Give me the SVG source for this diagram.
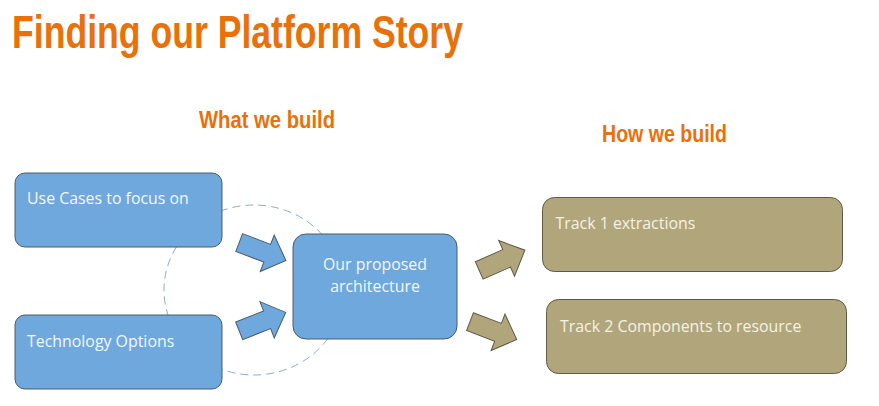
<svg xmlns="http://www.w3.org/2000/svg" width="879" height="406" viewBox="0 0 879 406">
  <style>
    .title { font-family: "Liberation Sans Narrow", "Liberation Sans", Arial, sans-serif; font-weight: bold; fill: #e8710a; }
    .blue { fill: #6fa8dc; stroke: #4a5a6e; stroke-width: 1; }
    .tan { fill: #b1a67b; stroke: #5e5a48; stroke-width: 1; }
    .lbl { font-family: "Open Sans", "Noto Sans", sans-serif; font-size: 15.9px; fill: #f4f7fb; }
    .lbl2 { font-family: "Open Sans", "Noto Sans", sans-serif; font-size: 15.9px; fill: #f5f2e4; }
  </style>
  <defs>
    <path id="blk" d="M0,-9.5 L30,-9.5 L30,-19.5 L50,0 L30,19.5 L30,9.5 L0,9.5 Z"/>
  </defs>
  <rect width="879" height="406" fill="#ffffff"/>

  <text class="title" x="12" y="48" font-size="46" textLength="451" lengthAdjust="spacingAndGlyphs">Finding our Platform Story</text>
  <text class="title" x="199" y="128" font-size="24" textLength="136" lengthAdjust="spacingAndGlyphs">What we build</text>
  <text class="title" x="602" y="141.5" font-size="24" textLength="125" lengthAdjust="spacingAndGlyphs">How we build</text>

  <ellipse cx="254" cy="290" rx="90" ry="85" fill="none" stroke="#8eaac9" stroke-width="1" stroke-dasharray="8,5"/>

  <g id="connectors">
    <use href="#blk" class="blue" transform="translate(239.2,242.5) rotate(21)"/>
    <use href="#blk" class="blue" transform="translate(239.2,330.8) rotate(-21.6)"/>
    <use href="#blk" class="tan" transform="translate(479.2,270.5) rotate(-24)"/>
    <use href="#blk" class="tan" transform="translate(470,321.7) rotate(20.8)"/>
  </g>

  <g id="use-cases">
    <rect class="blue" x="15" y="173" width="207" height="74" rx="10"/>
    <text class="lbl" x="27" y="204">Use Cases to focus on</text>
  </g>
  <g id="technology-options">
    <rect class="blue" x="15" y="315" width="207" height="74" rx="10"/>
    <text class="lbl" x="27" y="347">Technology Options</text>
  </g>
  <g id="proposed-architecture">
    <rect class="blue" x="293" y="234" width="164" height="105" rx="13"/>
    <text class="lbl" x="375" y="270" text-anchor="middle">Our proposed</text>
    <text class="lbl" x="375" y="292" text-anchor="middle">architecture</text>
  </g>
  <g id="track-1">
    <rect class="tan" x="542.5" y="197.5" width="300" height="74" rx="12"/>
    <text class="lbl2" x="555.5" y="229">Track 1 extractions</text>
  </g>
  <g id="track-2">
    <rect class="tan" x="546.5" y="299.5" width="300" height="74" rx="12"/>
    <text class="lbl2" x="560" y="331.5">Track 2 Components to resource</text>
  </g>
</svg>
